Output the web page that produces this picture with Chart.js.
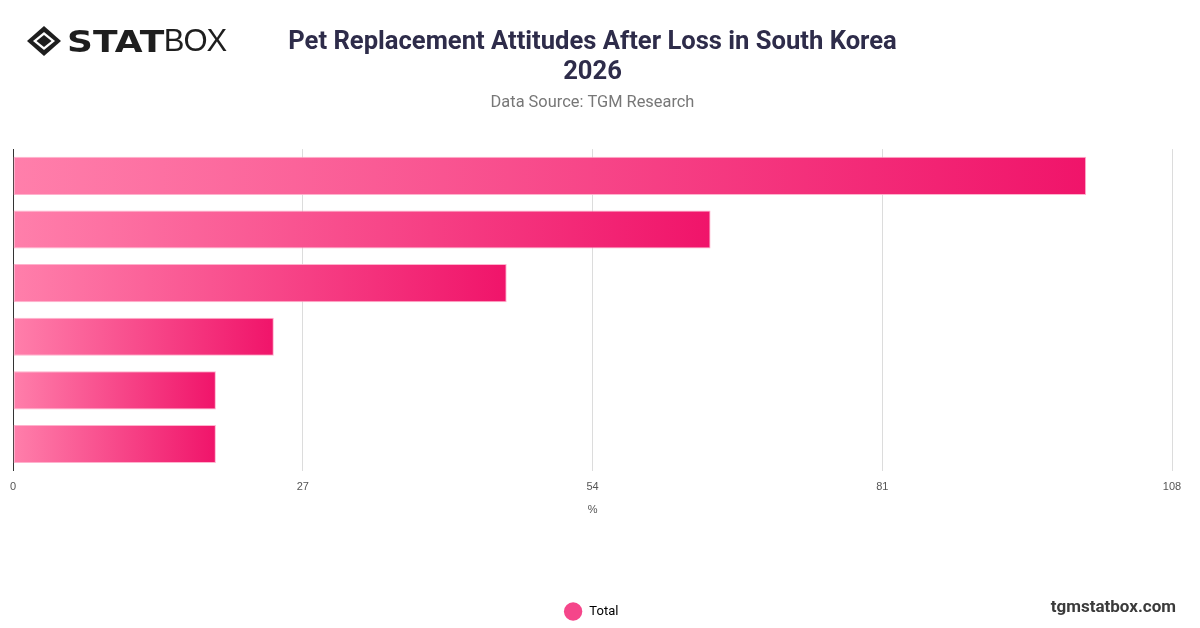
<!DOCTYPE html>
<html>
<head>
<meta charset="utf-8">
<script src="https://cdn.jsdelivr.net/npm/chart.js@4"></script>
<style>
  html, body { margin: 0; padding: 0; background: #fff; }
  body { width: 1200px; height: 628px; position: relative; overflow: hidden; font-family: 'Liberation Sans', Arial, sans-serif; }
  #wrap { position: absolute; left: 0; top: 0; width: 1200px; height: 628px; }
  .logo { position: absolute; left: 26px; top: 23px; display: flex; align-items: center; color: #1e1e1e; }
  .logo svg { margin-right: 5px; }
  .logo .stat { font-family: 'DejaVu Sans', sans-serif; font-weight: 900; font-size: 31px; display: inline-block; transform: scaleX(1.16); transform-origin: left center; margin-right: 13px; }
  .logo .box { font-family: 'Liberation Sans', Arial, sans-serif; font-weight: 400; font-size: 31px; letter-spacing: -1px; }
  .site { position: absolute; right: 24px; top: 596px; font-family: 'Roboto', 'Liberation Sans', sans-serif; font-weight: 700; font-size: 17px; color: #3b3b3b; }
</style>
</head>
<body>
<div id="wrap"><canvas id="grafico"></canvas></div>
<div class="logo">
  <svg width="36" height="32" viewBox="0 0 36 32">
    <polygon points="18,1 35,16 18,31 1,16" fill="#1e1e1e"/>
    <polygon points="18,7 29,16 18,25 7,16" fill="#fff"/>
    <polygon points="18,10 25.5,16 18,22 10.5,16" fill="#1e1e1e"/>
  </svg>
  <span class="stat">STAT</span><span class="box">BOX</span>
</div>
<div class="site">tgmstatbox.com</div>
<script>
// dados
const categorias = ['Categoria 1', 'Categoria 2', 'Categoria 3', 'Categoria 4', 'Categoria 5', 'Categoria 6'];
const valores = [100, 65, 46, 24.3, 18.9, 18.9];
const ticksX = [0, 27, 54, 81, 108];

const corClara = '#ff7fab';
const corEscura = '#f0146a';

function gradienteBarra(context) {
  const chart = context.chart;
  const area = chart.chartArea;
  if (!area || context.type !== 'data') return corEscura;
  const x = chart.scales.x;
  const x0 = x.getPixelForValue(0);
  const x1 = x.getPixelForValue(context.raw);
  const g = chart.ctx.createLinearGradient(x0, 0, x1, 0);
  g.addColorStop(0, corClara);
  g.addColorStop(1, corEscura);
  return g;
}

const canvas = document.getElementById('grafico');
canvas.width = 1200;
canvas.height = 628;

new Chart(canvas.getContext('2d'), {
  type: 'bar',
  data: {
    labels: categorias,
    datasets: [{
      label: 'Total',
      data: valores,
      backgroundColor: gradienteBarra,
      borderColor: 'rgba(255, 170, 200, 0.9)',
      borderWidth: 1,
      borderSkipped: false,
      barPercentage: 0.9,
      categoryPercentage: 0.79
    }]
  },
  options: {
    indexAxis: 'y',
    responsive: false,
    animation: false,
    devicePixelRatio: 1,
    layout: { padding: { left: 13, right: 28, top: 0, bottom: 0 } },
    scales: {
      x: {
        min: 0,
        max: 108,
        afterBuildTicks: axis => { axis.ticks = ticksX.map(v => ({ value: v })); },
        grid: { color: '#dcdcdc', lineWidth: 1, drawTicks: false },
        border: { display: false },
        ticks: { color: '#555', font: { family: "'Liberation Sans', Arial", size: 11 }, padding: 10 },
        title: { display: true, text: '%', color: '#555', font: { family: "'Liberation Sans', Arial", size: 11, lineHeight: 1 }, padding: { top: 0, bottom: 80 } }
      },
      y: {
        grid: { display: false, drawTicks: false },
        border: { display: true, color: '#333', width: 1 },
        ticks: { display: false }
      }
    },
    plugins: {
      title: {
        display: true,
        text: ['Pet Replacement Attitudes After Loss in South Korea', '2026'],
        color: '#2e2c4a',
        font: { family: "'Roboto', 'Inter', sans-serif", size: 25.6, weight: 'bold', lineHeight: 1.18 },
        padding: { top: 27, bottom: 6 }
      },
      subtitle: {
        display: true,
        text: 'Data Source: TGM Research',
        color: '#777',
        font: { family: "'Roboto', sans-serif", size: 16.4 },
        padding: { top: 0, bottom: 36 }
      },
      legend: {
        position: 'bottom',
        labels: {
          usePointStyle: true,
          pointStyle: 'circle',
          boxWidth: 14,
          boxHeight: 14,
          color: '#444',
          padding: 10,
          font: { family: "'Roboto', sans-serif", size: 13 },
          generateLabels: chart => [{
            text: ' Total', fillStyle: '#f5468a', strokeStyle: '#f5468a', lineWidth: 0,
            pointStyle: 'circle', datasetIndex: 0, hidden: false
          }]
        }
      },
      tooltip: { enabled: false }
    }
  }
});
</script>
</body>
</html>
